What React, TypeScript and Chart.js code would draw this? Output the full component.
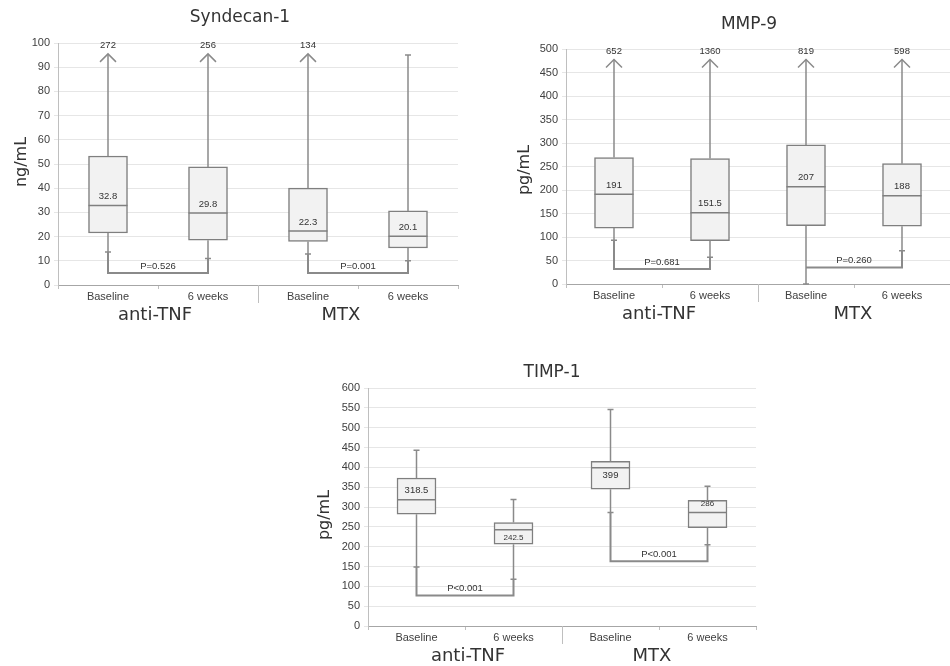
import React, { useEffect, useRef } from 'react';
import { Chart, registerables } from 'chart.js';

Chart.register(...registerables);

// ---------- data ----------
const categories = ['Baseline', '6 weeks', 'Baseline', '6 weeks'];
const groups = ['anti-TNF', 'MTX'];

// Syndecan-1 (ng/mL)
const synQ1 = [21.5, 18.5, 18, 15.3];
const synQ3 = [53.3, 48.8, 40, 30.6];
const synMedian = [32.8, 29.8, 22.3, 20.1];
const synLow = [13.6, 11, 12.8, 10];
const synHigh = [272, 256, 134, 95];
const synBracket = [5, 5];
const synP = ['P=0.526', 'P=0.001'];

// MMP-9 (pg/mL)
const mmpQ1 = [119, 92, 124, 123];
const mmpQ3 = [269, 267, 296, 256];
const mmpMedian = [191, 151.5, 207, 188];
const mmpLow = [93, 57, 0, 71];
const mmpHigh = [652, 1360, 819, 598];
const mmpBracket = [32, 35];
const mmpP = ['P=0.681', 'P=0.260'];

// TIMP-1 (pg/mL)
const timpQ1 = [282, 206, 345, 248];
const timpQ3 = [373, 261, 415, 317];
const timpMedian = [318.5, 242.5, 399, 286];
const timpLow = [149, 118, 286, 205];
const timpHigh = [443, 319, 546, 352];
const timpBracket = [77, 163];
const timpP = ['P<0.001', 'P<0.001'];

// ---------- styles ----------
const LINE = '#8a8a8a';
const BOX_BORDER = '#7f7f7f';
const BOX_FILL = '#f2f2f2';
const TEXT = '#333333';
const SMALL_FONT = 'Liberation Sans';
const BIG_FONT = 'DejaVu Sans';

type BoxProps = {
  left: number;
  top: number;
  width: number;
  height: number;
  title: string;
  titleX: number;
  titleY: number;
  yTitle: string;
  yTitleX: number;
  yTitleY: number;
  yMax: number;
  yStep: number;
  yWidth: number;
  xHeight: number;
  padding: { top: number; left: number; right: number; bottom: number };
  q1: number[];
  q3: number[];
  median: number[];
  low: number[];
  high: number[];
  bracket: number[];
  pText: string[];
  labelBelow: boolean[];
  labelSize: number[];
  groupDx: number[];
};

function BoxChart(p: BoxProps) {
  const ref = useRef<HTMLCanvasElement>(null);

  useEffect(() => {
    if (!ref.current) return;
    const boxWidth = 39;

    const extras = {
      id: 'boxExtras',
      afterDatasetsDraw(chart: any) {
        const ctx = chart.ctx;
        const xs = chart.scales.x;
        const ys = chart.scales.y;
        const yMax = ys.max;
        ctx.save();
        ctx.lineCap = 'butt';
        for (let i = 0; i < categories.length; i++) {
          const cx = xs.getPixelForValue(i);
          const yq1 = ys.getPixelForValue(p.q1[i]);
          const yq3 = ys.getPixelForValue(p.q3[i]);
          const ymed = ys.getPixelForValue(p.median[i]);
          const ylow = ys.getPixelForValue(p.low[i]);
          ctx.strokeStyle = LINE;
          ctx.lineWidth = 1.5;
          // upper whisker
          if (p.high[i] > yMax) {
            const tip = ys.getPixelForValue(yMax * 0.955);
            ctx.beginPath();
            ctx.moveTo(cx, yq3);
            ctx.lineTo(cx, tip);
            ctx.stroke();
            ctx.beginPath();
            ctx.moveTo(cx - 8, tip + 8);
            ctx.lineTo(cx, tip);
            ctx.lineTo(cx + 8, tip + 8);
            ctx.stroke();
            ctx.fillStyle = TEXT;
            ctx.font = `9.5px "${SMALL_FONT}"`;
            ctx.textAlign = 'center';
            ctx.textBaseline = 'middle';
            ctx.fillText(String(p.high[i]), cx, ys.getPixelForValue(yMax * 0.99));
          } else {
            const yh = ys.getPixelForValue(p.high[i]);
            ctx.beginPath();
            ctx.moveTo(cx, yq3);
            ctx.lineTo(cx, yh);
            ctx.moveTo(cx - 3, yh);
            ctx.lineTo(cx + 3, yh);
            ctx.stroke();
          }
          // lower whisker
          ctx.beginPath();
          ctx.moveTo(cx, yq1);
          ctx.lineTo(cx, ylow);
          ctx.moveTo(cx - 3, ylow);
          ctx.lineTo(cx + 3, ylow);
          ctx.stroke();
          // median
          ctx.strokeStyle = BOX_BORDER;
          ctx.lineWidth = 1.5;
          ctx.beginPath();
          ctx.moveTo(cx - boxWidth / 2, ymed);
          ctx.lineTo(cx + boxWidth / 2, ymed);
          ctx.stroke();
          ctx.fillStyle = TEXT;
          ctx.font = `${p.labelSize[i]}px "${SMALL_FONT}"`;
          ctx.textAlign = 'center';
          ctx.textBaseline = 'middle';
          ctx.fillText(String(p.median[i]), cx, p.labelBelow[i] ? ymed + 8 : ymed - 9);
        }
        // brackets
        for (let g = 0; g < 2; g++) {
          const a = g * 2;
          const b = g * 2 + 1;
          const xa = xs.getPixelForValue(a);
          const xb = xs.getPixelForValue(b);
          const yb = ys.getPixelForValue(p.bracket[g]);
          const ya = p.low[a] > p.bracket[g] ? ys.getPixelForValue(p.low[a]) : yb;
          const yb2 = p.low[b] > p.bracket[g] ? ys.getPixelForValue(p.low[b]) : yb;
          ctx.strokeStyle = LINE;
          ctx.lineWidth = 2;
          ctx.beginPath();
          ctx.moveTo(xa, ya);
          ctx.lineTo(xa, yb);
          ctx.lineTo(xb, yb);
          ctx.lineTo(xb, yb2);
          ctx.stroke();
          ctx.fillStyle = TEXT;
          ctx.font = `9.5px "${SMALL_FONT}"`;
          ctx.textAlign = 'center';
          ctx.textBaseline = 'middle';
          ctx.fillText(p.pText[g], (xa + xb) / 2, yb - 7);
        }
        ctx.restore();
      },
      afterDraw(chart: any) {
        const ctx = chart.ctx;
        const xs = chart.scales.x;
        const area = chart.chartArea;
        ctx.save();
        ctx.fillStyle = TEXT;
        ctx.textAlign = 'center';
        ctx.textBaseline = 'middle';
        // title
        ctx.font = `17px "${BIG_FONT}"`;
        ctx.fillText(p.title, p.titleX, p.titleY);
        // y title
        ctx.save();
        ctx.translate(p.yTitleX, p.yTitleY);
        ctx.rotate(-Math.PI / 2);
        ctx.font = `16px "${BIG_FONT}"`;
        ctx.fillText(p.yTitle, 0, 0);
        ctx.restore();
        // group labels
        ctx.font = `18px "${BIG_FONT}"`;
        for (let g = 0; g < 2; g++) {
          const gx = (xs.getPixelForValue(g * 2) + xs.getPixelForValue(g * 2 + 1)) / 2 + p.groupDx[g];
          ctx.fillText(groups[g], gx, area.bottom + 30);
        }
        // group separator
        const sx = (xs.getPixelForValue(1) + xs.getPixelForValue(2)) / 2;
        ctx.strokeStyle = '#bfbfbf';
        ctx.lineWidth = 1;
        ctx.beginPath();
        ctx.moveTo(Math.round(sx) + 0.5, area.bottom);
        ctx.lineTo(Math.round(sx) + 0.5, area.bottom + 18);
        ctx.stroke();
        ctx.restore();
      },
    };

    const chart = new Chart(ref.current, {
      type: 'bar',
      data: {
        labels: categories,
        datasets: [
          {
            data: p.q1.map((v, i) => [v, p.q3[i]]) as any,
            backgroundColor: BOX_FILL,
            borderColor: BOX_BORDER,
            borderWidth: 1.5,
            borderSkipped: false,
            barThickness: boxWidth,
          },
        ],
      },
      options: {
        responsive: false,
        animation: false,
        devicePixelRatio: 1,
        layout: { padding: p.padding },
        plugins: { legend: { display: false }, tooltip: { enabled: false }, title: { display: false } },
        scales: {
          x: {
            type: 'category',
            offset: true,
            grid: { display: true, drawOnChartArea: false, tickLength: 4, color: '#bfbfbf', offset: true },
            border: { color: '#a6a6a6' },
            ticks: {
              color: '#404040',
              font: { family: SMALL_FONT, size: 11 },
              padding: 1,
              maxRotation: 0,
              autoSkip: false,
            },
            afterFit: (s: any) => {
              s.height = p.xHeight;
            },
          },
          y: {
            min: 0,
            max: p.yMax,
            ticks: {
              stepSize: p.yStep,
              color: '#404040',
              font: { family: SMALL_FONT, size: 11 },
              padding: 4,
            },
            grid: { color: '#e6e6e6', tickLength: 4, drawTicks: true },
            border: { color: '#bfbfbf' },
            afterFit: (s: any) => {
              s.width = p.yWidth;
            },
          },
        },
      },
      plugins: [extras],
    });
    return () => chart.destroy();
  }, []);

  return (
    <canvas
      ref={ref}
      width={p.width}
      height={p.height}
      style={{ position: 'absolute', left: p.left, top: p.top, width: p.width, height: p.height }}
    />
  );
}

export default function App() {
  return (
    <div style={{ position: 'absolute', left: 0, top: 0, width: 950, height: 666, background: '#ffffff', overflow: 'hidden' }}>
      <BoxChart
        left={0}
        top={0}
        width={470}
        height={330}
        title="Syndecan-1"
        titleX={240}
        titleY={18}
        yTitle="ng/mL"
        yTitleX={22}
        yTitleY={162}
        yMax={100}
        yStep={10}
        yWidth={58}
        xHeight={45}
        padding={{ top: 43, left: 0, right: 12, bottom: 0 }}
        q1={synQ1}
        q3={synQ3}
        median={synMedian}
        low={synLow}
        high={synHigh}
        bracket={synBracket}
        pText={synP}
        labelBelow={[false, false, false, false]}
        labelSize={[9.5, 9.5, 9.5, 9.5]}
        groupDx={[-3, -17]}
      />
      <BoxChart
        left={480}
        top={0}
        width={470}
        height={330}
        title="MMP-9"
        titleX={269}
        titleY={25}
        yTitle="pg/mL"
        yTitleX={45}
        yTitleY={170}
        yMax={500}
        yStep={50}
        yWidth={86}
        xHeight={46}
        padding={{ top: 49, left: 0, right: 0, bottom: 0 }}
        q1={mmpQ1}
        q3={mmpQ3}
        median={mmpMedian}
        low={mmpLow}
        high={mmpHigh}
        bracket={mmpBracket}
        pText={mmpP}
        labelBelow={[false, false, false, false]}
        labelSize={[9.5, 9.5, 9.5, 9.5]}
        groupDx={[-3, -1]}
      />
      <BoxChart
        left={300}
        top={330}
        width={470}
        height={336}
        title="TIMP-1"
        titleX={252}
        titleY={43}
        yTitle="pg/mL"
        yTitleX={25}
        yTitleY={185}
        yMax={600}
        yStep={50}
        yWidth={68}
        xHeight={40}
        padding={{ top: 58, left: 0, right: 14, bottom: 0 }}
        q1={timpQ1}
        q3={timpQ3}
        median={timpMedian}
        low={timpLow}
        high={timpHigh}
        bracket={timpBracket}
        pText={timpP}
        labelBelow={[false, true, true, false]}
        labelSize={[9.5, 8, 9.5, 8]}
        groupDx={[3, -7]}
      />
    </div>
  );
}
